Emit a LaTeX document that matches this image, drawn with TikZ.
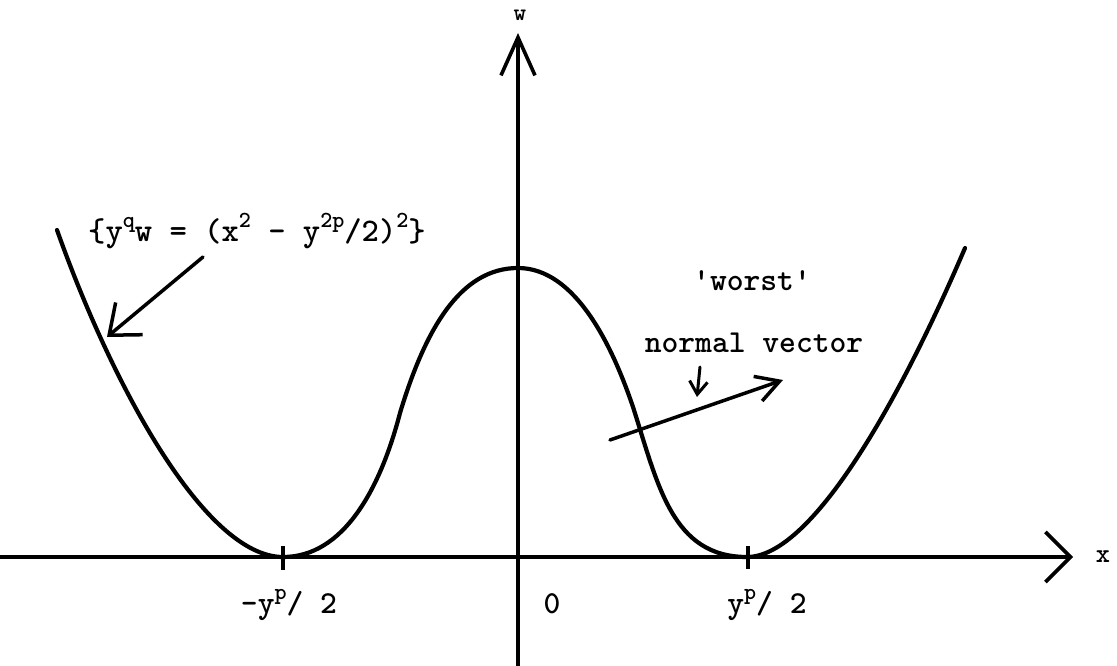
\documentclass[tikz,border=0pt]{standalone}
\usetikzlibrary{arrows.meta}
\newcommand\tsup[1]{\raisebox{0.42em}{\fontsize{23}{25}\selectfont #1}}
\begin{document}
\begin{tikzpicture}[x=1pt,y=-1pt,
  curve/.style={line width=4.2pt, line cap=round, line join=round},
  axisline/.style={line width=3.6pt},
  arrline/.style={line width=3.5pt, line cap=round},
  lbl/.style={font=\ttfamily\bfseries\fontsize{32}{36}\selectfont, inner sep=0pt},
  eqlbl/.style={font=\ttfamily\bfseries\fontsize{33}{36}\selectfont, inner sep=0pt}]
\useasboundingbox (0,0) rectangle (1117,666);

% axes
\coordinate (xs) at (0,557);
\coordinate (xe) at (1073,557);
\coordinate (ws) at (518,666);
\coordinate (we) at (518,33);
\draw[axisline, -{Straight Barb[length=25pt,width=50pt]}] (xs) -- (xe);
\draw[axisline, -{Straight Barb[length=38pt,width=34pt]}] (ws) -- (we);
\node[font=\ttfamily\bfseries\fontsize{24}{26}\selectfont, inner sep=0pt] (wl) at (520,15) {w};
\node[font=\ttfamily\bfseries\fontsize{27}{29}\selectfont, inner sep=0pt] (xl) at (1103,557) {x};

% ticks at minima
\coordinate (tl1) at (283,546); \coordinate (tl2) at (283,570);
\coordinate (tr1) at (748,546); \coordinate (tr2) at (748,569);
\draw[axisline] (tl1) -- (tl2);
\draw[axisline] (tr1) -- (tr2);

% curve
\coordinate (c0) at (57,230);
\coordinate (cmL) at (283,557);
\coordinate (ciL) at (400,413);
\coordinate (cpk) at (518,268);
\coordinate (ciR) at (633,407);
\coordinate (cmR) at (747,557);
\coordinate (c1) at (965,248);
\draw[curve] (c0) .. controls (112,385) and (205,557) .. (cmL)
  .. controls (343,557) and (380,490) .. (ciL)
  .. controls (425,330) and (460,268) .. (cpk)
  .. controls (575,268) and (612,345) .. (ciR)
  .. controls (658,485) and (672,557) .. (cmR)
  .. controls (812,557) and (900,400) .. (c1);

% labels
\node[eqlbl, anchor=base west] (eq) at (88,241)
  {\{y\tsup{q}w = (x\tsup{2} - y\tsup{2p}/2)\tsup{2}\}};
\node[lbl, anchor=base] (worst) at (752,290) {\textquotesingle worst\textquotesingle};
\node[lbl, anchor=base] (nv) at (754,352) {normal vector};
\node[lbl, anchor=base] (lm) at (289,613) {-y\tsup{p}/ 2};
\node[lbl, anchor=base] (zero) at (552,613) {0};
\node[lbl, anchor=base] (rm) at (767,613) {y\tsup{p}/ 2};

% arrows
\coordinate (fa) at (203,257);
\coordinate (fb) at (107,337);
\draw[arrline, -{Straight Barb[length=26pt,width=42pt]}] (fa) -- (fb);
\coordinate (na) at (610,440);
\coordinate (nb) at (783,380);
\draw[arrline, -{Straight Barb[length=23pt,width=26pt]}] (na) -- (nb);
\coordinate (sa) at (700,367);
\coordinate (sb) at (697,397);
\draw[arrline, line width=3pt, -{Straight Barb[length=13pt,width=18pt]}] (sa) -- (sb);
\end{tikzpicture}
\end{document}
